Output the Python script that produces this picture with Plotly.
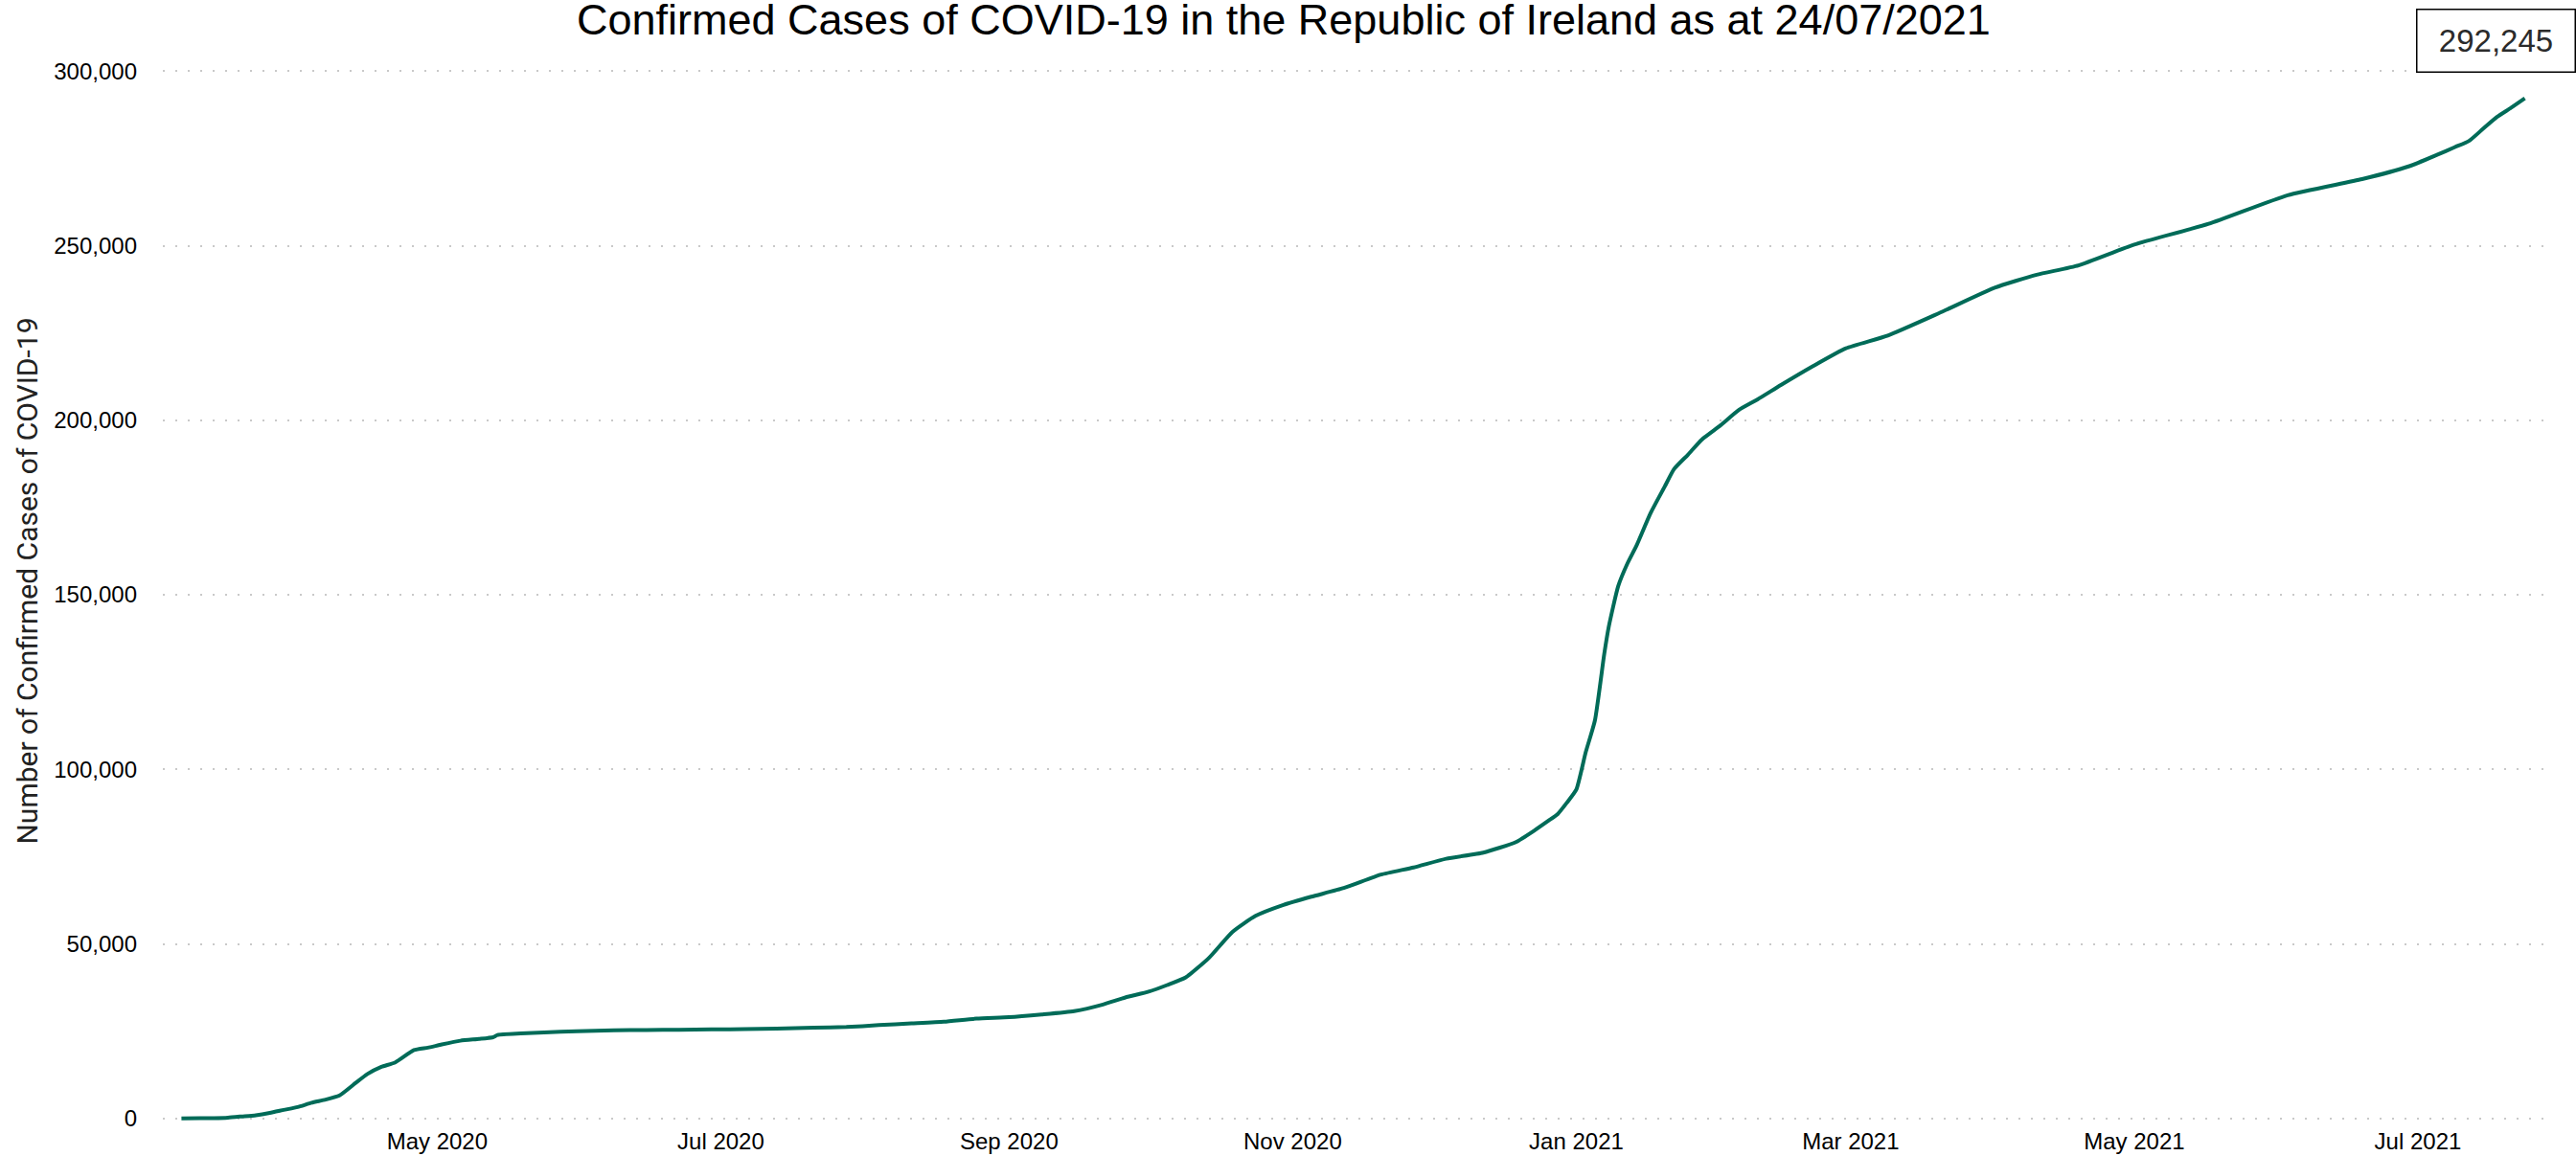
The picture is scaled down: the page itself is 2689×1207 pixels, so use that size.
import plotly.graph_objects as go

dates = [
    "2020-03-07", "2020-03-11", "2020-03-14", "2020-03-17", "2020-03-20", "2020-03-23",
    "2020-03-26", "2020-03-29", "2020-04-01", "2020-04-04", "2020-04-07", "2020-04-10",
    "2020-04-13", "2020-04-16", "2020-04-19", "2020-04-22", "2020-04-26", "2020-04-29",
    "2020-05-02", "2020-05-06", "2020-05-10", "2020-05-13", "2020-05-14", "2020-05-19",
    "2020-05-24", "2020-05-31", "2020-06-08", "2020-06-15", "2020-06-22", "2020-06-29",
    "2020-07-06", "2020-07-13", "2020-07-21", "2020-07-28", "2020-08-04", "2020-08-11",
    "2020-08-18", "2020-08-25", "2020-09-01", "2020-09-08", "2020-09-15", "2020-09-21",
    "2020-09-26", "2020-10-01", "2020-10-05", "2020-10-09", "2020-10-14", "2020-10-19",
    "2020-10-24", "2020-10-30", "2020-11-05", "2020-11-12", "2020-11-20", "2020-11-27",
    "2020-12-04", "2020-12-12", "2020-12-19", "2020-12-23", "2020-12-26", "2020-12-28",
    "2020-12-30", "2021-01-01", "2021-01-03", "2021-01-05", "2021-01-07", "2021-01-08",
    "2021-01-10", "2021-01-12", "2021-01-14", "2021-01-17", "2021-01-20", "2021-01-22",
    "2021-01-25", "2021-01-28", "2021-02-01", "2021-02-05", "2021-02-09", "2021-02-14",
    "2021-02-21", "2021-02-28", "2021-03-09", "2021-03-20", "2021-04-01", "2021-04-10",
    "2021-04-19", "2021-05-01", "2021-05-17", "2021-06-03", "2021-06-19", "2021-06-29",
    "2021-07-05", "2021-07-09", "2021-07-12", "2021-07-15", "2021-07-18", "2021-07-21",
    "2021-07-24",
]

cases = [
    19, 43, 90, 223, 557, 906,
    1564, 2415, 3235, 4470, 5364, 6574,
    9655, 12700, 14758, 16040, 19550, 20253,
    21176, 22248, 22760, 23242, 23900, 24315,
    24639, 24929, 25230, 25334, 25379, 25477,
    25565, 25730, 25970, 26162, 26712, 27191,
    27676, 28578, 28980, 29774, 30730, 32538,
    34640, 36300, 38200, 40400, 46000, 53380,
    58000, 61150, 63500, 66000, 69840, 71900,
    74400, 76150, 79160, 82500, 85280, 87200,
    90500, 94200, 104800, 114000, 133000, 141000,
    152450, 159000, 164250, 173500, 181000, 186000,
    190150, 194500, 198550, 203000, 206000, 210100,
    215600, 220640, 224300, 230700, 238000, 241700,
    244400, 250350, 256300, 264500, 269100, 272750,
    276000, 278300, 280050, 283500, 286900, 289500,
    292245,
]

title_text = "Confirmed Cases of COVID-19 in the Republic of Ireland as at 24/07/2021"
y_title = "Number of Confirmed Cases of COVID-19"
y_ticks = [0, 50000, 100000, 150000, 200000, 250000, 300000]

fig = go.Figure()
fig.add_trace(go.Scatter(
    x=dates, y=cases, mode="lines",
    line=dict(color="#006B58", width=4, shape="spline", smoothing=0.5),
    showlegend=False, hoverinfo="skip",
))

fig.add_annotation(
    x=dates[-1], y=cases[-1], xref="x", yref="y",
    text=f"{cases[-1]:,}", showarrow=False,
    xshift=-30, yshift=60,
    font=dict(family="Liberation Sans, Arial", size=33, color="#2b2b2b"),
    bordercolor="#000000", borderwidth=1.5, borderpad=10,
    bgcolor="white", width=144, height=44,
)

fig.update_layout(
    width=2689, height=1207,
    paper_bgcolor="white", plot_bgcolor="white",
    margin=dict(l=170, r=34, t=38, b=32, autoexpand=False),
    title=dict(
        text=title_text, x=0.4983, xanchor="center",
        y=0.9965, yref="container", yanchor="top",
        font=dict(family="Liberation Sans, Arial", size=45, color="#000000"),
    ),
    font=dict(family="Liberation Sans, Arial", size=24, color="#000000"),
    xaxis=dict(
        type="date", range=["2020-03-03", "2021-07-28"],
        dtick="M2", tick0="2020-01-01", tickformat="%b %Y",
        showgrid=False, zeroline=False, showline=False, ticks="",
        tickfont=dict(size=24), automargin=False,
    ),
    yaxis=dict(
        range=[-2000, 310000], tickvals=y_ticks, tickformat=",",
        showgrid=True, gridcolor="#c9c9c9", gridwidth=2, griddash="2px,11px",
        zeroline=False, showline=False, ticks="",
        ticklabelstandoff=26, automargin=False,
        tickfont=dict(size=24),
        title=dict(text=y_title, standoff=7,
                   font=dict(family="Roboto, Liberation Sans", size=30, color="#222222")),
    ),
)

fig.write_html("out.html", config={"displayModeBar": False},
               post_script="document.body.style.margin='0';")
